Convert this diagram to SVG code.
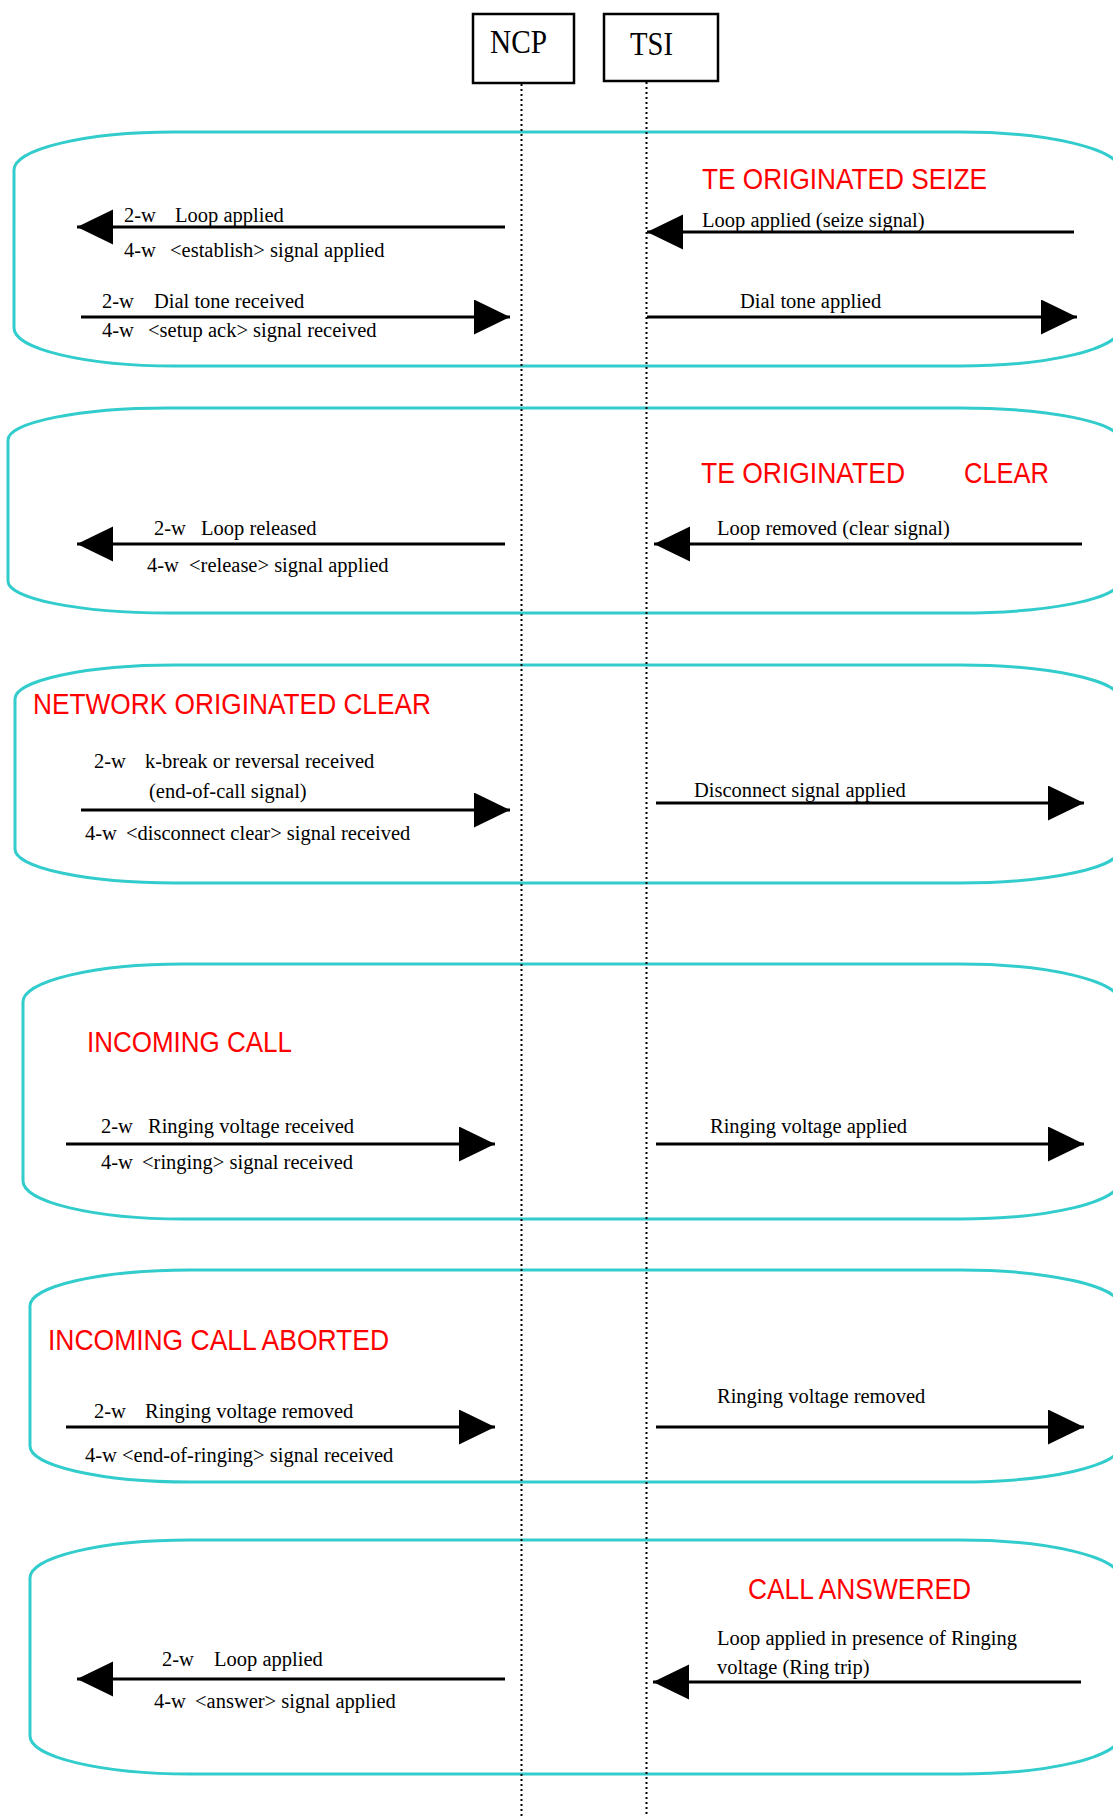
<svg xmlns="http://www.w3.org/2000/svg" width="1113" height="1816" viewBox="0 0 1113 1816">
<style>
.frame{fill:none;stroke:#33CCCC;stroke-width:3}
.ent{fill:#fff;stroke:#000;stroke-width:2.5}
.ent-t{font-family:"Liberation Serif","Times New Roman",serif;font-size:33px;fill:#000}
.lbl{font-family:"Liberation Serif","Times New Roman",serif;font-size:20.5px;fill:#000}
.ttl{font-family:"Liberation Sans",Arial,sans-serif;font-size:30px;fill:#FF0000}
.life{stroke:#000;stroke-width:2;stroke-dasharray:2 3;fill:none}
.msg{stroke:#000;stroke-width:3;fill:none;marker-end:url(#head)}
</style>
<defs>
<marker id="head" markerUnits="userSpaceOnUse" markerWidth="37" markerHeight="36" refX="36" refY="17.5" orient="auto" viewBox="0 0 37 36">
<path d="M0,0 L36,17.5 L0,35 Z" fill="#000"/>
</marker>
</defs>
<rect width="1113" height="1816" fill="#fff"/>

<g id="frame-te-seize">
<rect class="frame" x="14" y="132" width="1106" height="234" rx="160" ry="38"/>
<text class="ttl" x="702" y="189" textLength="285" lengthAdjust="spacingAndGlyphs">TE ORIGINATED SEIZE</text>
<text class="lbl" x="124" y="222">2-w</text>
<text class="lbl" x="175" y="222">Loop applied</text>
<text class="lbl" x="124" y="257">4-w</text>
<text class="lbl" x="170" y="257">&lt;establish&gt; signal applied</text>
<text class="lbl" x="102" y="308">2-w</text>
<text class="lbl" x="154" y="308">Dial tone received</text>
<text class="lbl" x="102" y="337">4-w</text>
<text class="lbl" x="148" y="337">&lt;setup ack&gt; signal received</text>
<text class="lbl" x="702" y="227">Loop applied (seize signal)</text>
<text class="lbl" x="740" y="308">Dial tone applied</text>
</g>

<g id="frame-te-clear">
<rect class="frame" x="8" y="408" width="1112" height="205" rx="160" ry="32"/>
<text class="ttl" x="701" y="483" textLength="204" lengthAdjust="spacingAndGlyphs">TE ORIGINATED</text>
<text class="ttl" x="964" y="483" textLength="85" lengthAdjust="spacingAndGlyphs">CLEAR</text>
<text class="lbl" x="154" y="535">2-w</text>
<text class="lbl" x="201" y="535">Loop released</text>
<text class="lbl" x="147" y="572">4-w</text>
<text class="lbl" x="189" y="572">&lt;release&gt; signal applied</text>
<text class="lbl" x="717" y="535">Loop removed (clear signal)</text>
</g>

<g id="frame-network-clear">
<rect class="frame" x="15" y="665" width="1105" height="218" rx="160" ry="34"/>
<text class="ttl" x="33" y="714" textLength="398" lengthAdjust="spacingAndGlyphs">NETWORK ORIGINATED CLEAR</text>
<text class="lbl" x="94" y="768">2-w</text>
<text class="lbl" x="145" y="768">k-break or reversal received</text>
<text class="lbl" x="149" y="798">(end-of-call signal)</text>
<text class="lbl" x="85" y="840">4-w</text>
<text class="lbl" x="126" y="840">&lt;disconnect clear&gt; signal received</text>
<text class="lbl" x="694" y="797">Disconnect signal applied</text>
</g>

<g id="frame-incoming-call">
<rect class="frame" x="23" y="964" width="1097" height="255" rx="160" ry="38"/>
<text class="ttl" x="87" y="1052" textLength="205" lengthAdjust="spacingAndGlyphs">INCOMING CALL</text>
<text class="lbl" x="101" y="1133">2-w</text>
<text class="lbl" x="148" y="1133">Ringing voltage received</text>
<text class="lbl" x="101" y="1169">4-w</text>
<text class="lbl" x="142" y="1169">&lt;ringing&gt; signal received</text>
<text class="lbl" x="710" y="1133">Ringing voltage applied</text>
</g>

<g id="frame-incoming-aborted">
<rect class="frame" x="30" y="1270" width="1090" height="212" rx="160" ry="36"/>
<text class="ttl" x="48" y="1350" textLength="341" lengthAdjust="spacingAndGlyphs">INCOMING CALL ABORTED</text>
<text class="lbl" x="94" y="1418">2-w</text>
<text class="lbl" x="145" y="1418">Ringing voltage removed</text>
<text class="lbl" x="85" y="1462">4-w &lt;end-of-ringing&gt; signal received</text>
<text class="lbl" x="717" y="1403">Ringing voltage removed</text>
</g>

<g id="frame-call-answered">
<rect class="frame" x="30" y="1540" width="1090" height="234" rx="160" ry="38"/>
<text class="ttl" x="748" y="1599" textLength="223" lengthAdjust="spacingAndGlyphs">CALL ANSWERED</text>
<text class="lbl" x="717" y="1645">Loop applied in presence of Ringing</text>
<text class="lbl" x="717" y="1674">voltage (Ring trip)</text>
<text class="lbl" x="162" y="1666">2-w</text>
<text class="lbl" x="214" y="1666">Loop applied</text>
<text class="lbl" x="154" y="1708">4-w</text>
<text class="lbl" x="195" y="1708">&lt;answer&gt; signal applied</text>
</g>

<g id="NCP">
<rect class="ent" x="473" y="14" width="101" height="69"/>
<text class="ent-t" x="490" y="53" textLength="57" lengthAdjust="spacingAndGlyphs">NCP</text>
</g>
<g id="TSI">
<rect class="ent" x="604" y="14" width="114" height="67"/>
<text class="ent-t" x="630" y="55" textLength="43" lengthAdjust="spacingAndGlyphs">TSI</text>
</g>

<g id="connectors">
<line class="life" x1="521.5" y1="84" x2="521.5" y2="1816"/>
<line class="life" x1="646.5" y1="82" x2="646.5" y2="1816"/>
<line class="msg" x1="505" y1="227" x2="77" y2="227"/>
<line class="msg" x1="1074" y1="232" x2="647" y2="232"/>
<line class="msg" x1="81" y1="317" x2="510" y2="317"/>
<line class="msg" x1="647" y1="317" x2="1077" y2="317"/>
<line class="msg" x1="505" y1="544" x2="77" y2="544"/>
<line class="msg" x1="1082" y1="544" x2="654" y2="544"/>
<line class="msg" x1="81" y1="810" x2="510" y2="810"/>
<line class="msg" x1="656" y1="803" x2="1084" y2="803"/>
<line class="msg" x1="66" y1="1144" x2="495" y2="1144"/>
<line class="msg" x1="656" y1="1144" x2="1084" y2="1144"/>
<line class="msg" x1="66" y1="1427" x2="495" y2="1427"/>
<line class="msg" x1="656" y1="1427" x2="1084" y2="1427"/>
<line class="msg" x1="505" y1="1679" x2="77" y2="1679"/>
<line class="msg" x1="1081" y1="1682" x2="653" y2="1682"/>
</g>
</svg>
